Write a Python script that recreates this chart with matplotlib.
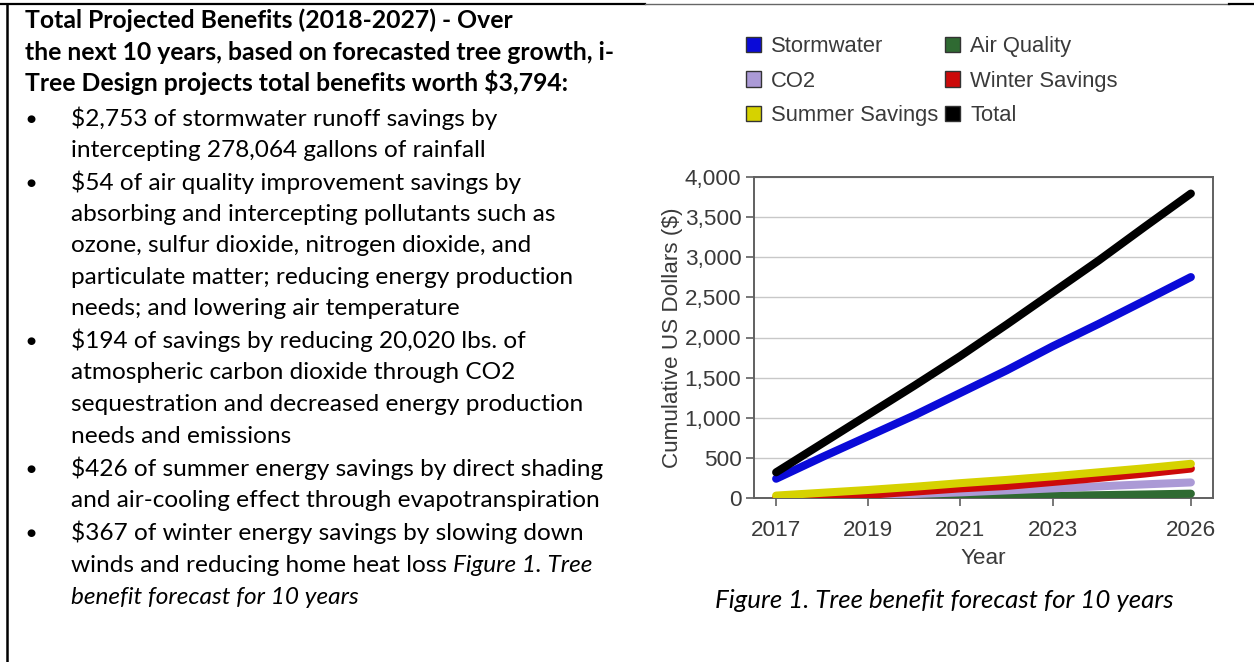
import matplotlib
matplotlib.use("Agg")
import matplotlib.pyplot as plt
from matplotlib.patches import Patch
from matplotlib.lines import Line2D

# ---------------- data ----------------
years = [2017, 2018, 2019, 2020, 2021, 2022, 2023, 2024, 2025, 2026]
stormwater = [240, 510, 770, 1030, 1310, 1590, 1890, 2170, 2460, 2753]
air_quality = [0, 2, 5, 9, 14, 20, 27, 35, 44, 54]
co2 = [5, 15, 30, 50, 70, 95, 120, 145, 170, 194]
winter = [0, 15, 40, 80, 120, 150, 200, 250, 305, 367]
summer = [30, 65, 100, 140, 185, 225, 270, 320, 370, 426]
total = [320, 680, 1040, 1400, 1770, 2160, 2560, 2960, 3380, 3794]
xticks = [2017, 2019, 2021, 2023, 2026]
yticks = [0, 500, 1000, 1500, 2000, 2500, 3000, 3500, 4000]

header_lines = [
    "Total Projected Benefits (2018-2027) - Over",
    "the next 10 years, based on forecasted tree growth, i-",
    "Tree Design projects total benefits worth $3,794:",
]
bullets = [
    ["$2,753 of stormwater runoff savings by",
     "intercepting 278,064 gallons of rainfall"],
    ["$54 of air quality improvement savings by",
     "absorbing and intercepting pollutants such as",
     "ozone, sulfur dioxide, nitrogen dioxide, and",
     "particulate matter; reducing energy production",
     "needs; and lowering air temperature"],
    ["$194 of savings by reducing 20,020 lbs. of",
     "atmospheric carbon dioxide through CO2",
     "sequestration and decreased energy production",
     "needs and emissions"],
    ["$426 of summer energy savings by direct shading",
     "and air-cooling effect through evapotranspiration"],
    ["$367 of winter energy savings by slowing down",
     "winds and reducing home heat loss "],
]
italic_tail = ["Figure 1. Tree", "benefit forecast for 10 years"]
caption = "Figure 1. Tree benefit forecast for 10 years"

# ---------------- figure ----------------
W, H = 1254, 662
fig = plt.figure(figsize=(W / 100, H / 100), dpi=100)
fig.patch.set_facecolor("white")

def fx(px):
    return px / W

def fy(py):
    return 1 - py / H

# borders
fig.add_artist(Line2D([fx(0), fx(645)], [fy(4), fy(4)], color="black", lw=1.6))
fig.add_artist(Line2D([fx(645), fx(1229)], [fy(4), fy(4)], color="#666666", lw=1.0))
fig.add_artist(Line2D([fx(1229), fx(1254)], [fy(4), fy(4)], color="black", lw=1.6))
fig.add_artist(Line2D([fx(7), fx(7)], [fy(4), fy(662)], color="black", lw=1.8))

# ---------------- left text ----------------
tfont = "Lato"
tsize = 17.6
hsize = 17.8
row_y = [21, 53, 84, 119, 150, 183, 214, 245, 277, 308, 341, 372, 404, 436,
         469, 500, 533, 565, 597]
base_off = 7
r = 0
for line in header_lines:
    fig.text(fx(25), fy(row_y[r] + base_off), line, fontfamily=tfont,
             fontweight="bold", fontsize=hsize, va="baseline", ha="left")
    r += 1
last_txt = None
for b in bullets:
    fig.text(fx(31), fy(row_y[r]), "\u25CF", fontfamily="DejaVu Sans",
             fontsize=7.5, va="center", ha="center")
    for line in b:
        last_txt = fig.text(fx(71), fy(row_y[r] + base_off), line, fontfamily=tfont,
                            fontsize=tsize, va="baseline", ha="left")
        r += 1
# italic tail appended to last line
fig.canvas.draw()
renderer = fig.canvas.get_renderer()
bb = last_txt.get_window_extent(renderer)
fig.text(bb.x1 / W, fy(row_y[r - 1] + base_off), italic_tail[0], fontfamily=tfont,
         fontstyle="italic", fontsize=tsize, va="baseline", ha="left")
fig.text(fx(71), fy(row_y[r] + base_off), italic_tail[1], fontfamily=tfont,
         fontstyle="italic", fontsize=tsize, va="baseline", ha="left")

# caption on right
fig.text(fx(944), fy(601 + base_off), caption, fontfamily=tfont, fontstyle="italic",
         fontsize=18.6, va="baseline", ha="center")

# ---------------- chart ----------------
cfont = "Liberation Sans"
csize = 16.2
tc = "#3a3a3a"
ax = fig.add_axes([fx(754), fy(498), fx(1213) - fx(754), fy(177) - fy(498)])
series = [
    ("Air Quality", air_quality, "#2f6a32"),
    ("CO2", co2, "#ab9ad6"),
    ("Winter Savings", winter, "#cc0a0a"),
    ("Summer Savings", summer, "#d6d200"),
    ("Stormwater", stormwater, "#0a0ad8"),
    ("Total", total, "#000000"),
]
for name, vals, col in series:
    ax.plot(years, vals, color=col, lw=5.8, solid_capstyle="round",
            solid_joinstyle="round", zorder=3)

ax.set_xlim(2016.52, 2026.48)
ax.set_ylim(0, 4000)
ax.set_xticks(xticks)
ax.set_yticks(yticks)
ax.set_yticklabels([f"{v:,}" for v in yticks])
ax.grid(axis="y", color="#c8c8c8", lw=1.0, zorder=0)
for s in ax.spines.values():
    s.set_color("#606060")
    s.set_linewidth(1.4)
ax.tick_params(axis="both", colors="#606060", labelcolor=tc, labelsize=csize,
               length=6, width=1.2, direction="out")
ax.tick_params(axis="x", pad=10)
ax.tick_params(axis="y", pad=3)
for lab in ax.get_xticklabels() + ax.get_yticklabels():
    lab.set_fontfamily(cfont)
ax.set_xlabel("Year", fontfamily=cfont, fontsize=csize, color=tc, labelpad=5)
ax.set_ylabel("Cumulative US Dollars ($)", fontfamily=cfont, fontsize=csize,
              color=tc, labelpad=1)

# legend
colors = {n: c for n, v, c in series}
order = ["Stormwater", "CO2", "Summer Savings", "Air Quality", "Winter Savings", "Total"]
handles = [Patch(facecolor=colors[n], edgecolor="#333333", lw=1.0) for n in order]
leg = fig.legend(handles, order, ncol=2, loc="upper left",
                 bbox_to_anchor=(fx(746), fy(36)), frameon=False,
                 prop={"family": cfont, "size": 15.8},
                 handlelength=0.7, handleheight=0.7, handletextpad=0.45,
                 columnspacing=0.3, labelspacing=0.62, borderpad=0,
                 borderaxespad=0)
for t in leg.get_texts():
    t.set_color(tc)

fig.savefig("out.png", dpi=100)
